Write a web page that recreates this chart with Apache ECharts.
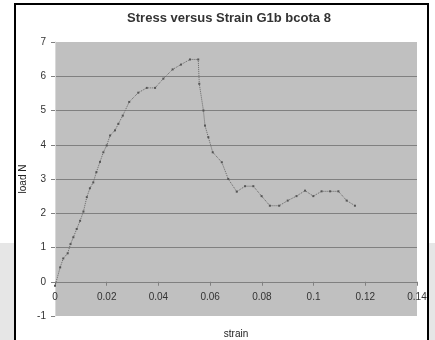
<!DOCTYPE html>
<html>
<head>
<meta charset="utf-8">
<script src="https://cdn.jsdelivr.net/npm/echarts@6/dist/echarts.min.js"></script>
<style>
html,body{margin:0;padding:0;background:#fff;}
#c{width:435px;height:340px;}
</style>
</head>
<body>
<div id="c"></div>
<script>
var titleText = 'Stress versus Strain G1b bcota 8';
var xName = 'strain';
var yName = 'load N';
var strain = [0, 0.002, 0.0032, 0.0049, 0.006, 0.0071, 0.0084, 0.0097, 0.011, 0.0123, 0.0135, 0.0148, 0.016, 0.0174, 0.0187, 0.02, 0.0213, 0.0232, 0.0245, 0.0262, 0.0287, 0.0322, 0.0355, 0.0387, 0.0419, 0.0455, 0.0487, 0.0522, 0.0554, 0.0558, 0.0574, 0.058, 0.0593, 0.061, 0.0645, 0.067, 0.0703, 0.0735, 0.0767, 0.0799, 0.0831, 0.0867, 0.09, 0.0934, 0.0967, 0.0999, 0.1031, 0.1064, 0.1096, 0.1128, 0.116];
var load = [-0.12, 0.42, 0.68, 0.83, 1.1, 1.3, 1.54, 1.78, 2.05, 2.47, 2.73, 2.9, 3.2, 3.5, 3.78, 3.98, 4.27, 4.42, 4.61, 4.85, 5.25, 5.52, 5.66, 5.66, 5.93, 6.2, 6.34, 6.49, 6.49, 5.78, 5.0, 4.56, 4.22, 3.78, 3.49, 3.0, 2.63, 2.79, 2.79, 2.5, 2.22, 2.22, 2.37, 2.5, 2.66, 2.5, 2.64, 2.64, 2.64, 2.37, 2.22];
var xTicks = ['0', '0.02', '0.04', '0.06', '0.08', '0.1', '0.12', '0.14'];

var pts = strain.map(function (s, i) { return [s, load[i]]; });
var chart = echarts.init(document.getElementById('c'), null, {renderer: 'canvas'});
var fontFam = 'Liberation Sans, Arial, sans-serif';
var gridTop = 42, gridBottom = 24, yMin = -1, yMax = 7;
var plotH = 340 - gridTop - gridBottom;
var zeroOffset = -plotH * (0 - yMin) / (yMax - yMin);
chart.setOption({
  animation: false,
  backgroundColor: '#ffffff',
  graphic: [
    {type: 'rect', shape: {x: 0, y: 243, width: 14, height: 100}, style: {fill: '#e6e6e6'}, z: -10},
    {type: 'rect', shape: {x: 429, y: 243, width: 10, height: 100}, style: {fill: '#e6e6e6'}, z: -10},
    {type: 'polyline', shape: {points: [[15, 345], [15, 4], [428, 4], [428, 345]]}, style: {stroke: '#000', lineWidth: 2, fill: null}, z: 10}
  ],
  title: {
    text: titleText, left: 224, top: 7, textAlign: 'center',
    textStyle: {fontSize: 13, fontWeight: 'bold', color: '#333', fontFamily: fontFam}
  },
  grid: {left: 55, right: 18, top: gridTop, bottom: gridBottom, show: true, backgroundColor: '#c0c0c0', borderWidth: 0, outerBoundsMode: 'none', containLabel: false},
  xAxis: {
    type: 'value', min: 0, max: 0.14, interval: 0.02,
    position: 'bottom', offset: zeroOffset,
    name: xName, nameLocation: 'middle', nameGap: 47, nameMoveOverlap: false,
    nameTextStyle: {fontSize: 10, color: '#222', fontFamily: fontFam},
    axisLine: {show: true, onZero: false, lineStyle: {color: '#808080', width: 1}},
    axisTick: {show: true, length: 4, inside: false, lineStyle: {color: '#808080'}},
    axisLabel: {fontSize: 10, color: '#333', fontFamily: fontFam, margin: 10,
      formatter: function (v) { var i = Math.round(v / 0.02); return xTicks[i] || ''; }},
    splitLine: {show: false}
  },
  yAxis: {
    type: 'value', min: yMin, max: yMax, interval: 1,
    name: yName, nameLocation: 'middle', nameGap: 27, nameRotate: 90, nameMoveOverlap: false,
    nameTextStyle: {fontSize: 10, color: '#222', fontFamily: fontFam},
    axisLine: {show: true, onZero: false, lineStyle: {color: '#d8d8d8', width: 1}},
    axisTick: {show: true, length: 4, lineStyle: {color: '#808080'}},
    axisLabel: {fontSize: 10, color: '#333', fontFamily: fontFam, margin: 9},
    splitLine: {show: true, showMinLine: false, showMaxLine: false, lineStyle: {color: '#808080', width: 1}}
  },
  series: [{
    type: 'line', data: pts,
    symbol: 'rect', symbolSize: 2, showSymbol: true,
    itemStyle: {color: '#555'},
    lineStyle: {color: '#666', width: 1, type: 'dotted'},
    z: 5
  }]
});
</script>
</body>
</html>
